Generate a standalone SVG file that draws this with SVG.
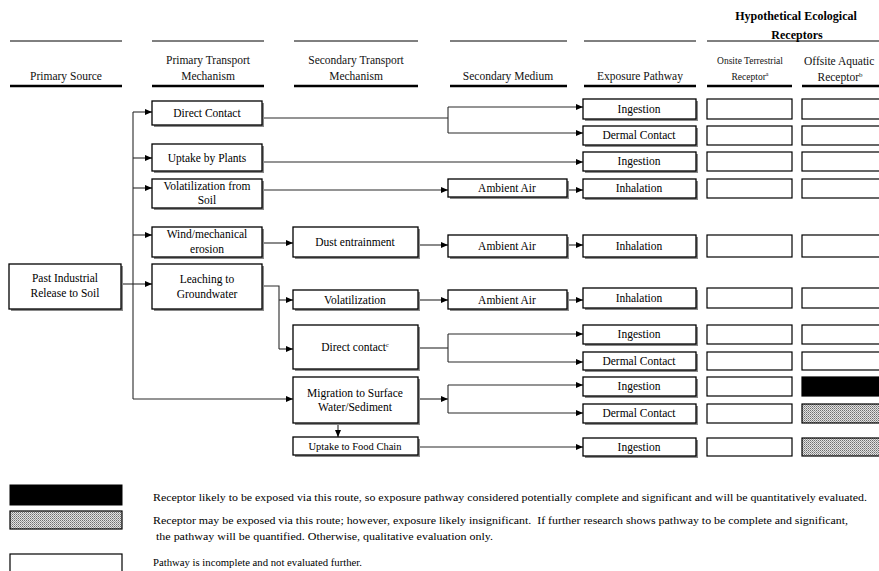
<svg xmlns="http://www.w3.org/2000/svg" width="879" height="571" viewBox="0 0 879 571">
<style>
.t{font-family:"Liberation Serif","Times New Roman",serif;font-size:11.5px;fill:#000;text-anchor:middle}
.hd{font-family:"Liberation Serif","Times New Roman",serif;font-size:11.5px;fill:#111;text-anchor:middle}
.hb{font-family:"Liberation Serif","Times New Roman",serif;font-size:12px;font-weight:bold;fill:#000;text-anchor:middle}
.sm{font-size:9.5px}
.lg{font-family:"Liberation Serif","Times New Roman",serif;font-size:10.8px;fill:#000}
.box{fill:#fff;stroke:#000;stroke-width:1.3}
.sh{fill:#8a8a8a}
.rc{fill:#fff;stroke:#000;stroke-width:1.2}
.thin{stroke:#000;stroke-width:1}
.thick{stroke:#000;stroke-width:2.6}
.conn line,.conn path{stroke:#2a2a2a;stroke-width:1.1;fill:none}
</style>
<defs>
<marker id="ar" markerWidth="7" markerHeight="6" refX="7" refY="3" orient="auto" markerUnits="userSpaceOnUse">
<path d="M0,0 L7,3 L0,6 z" fill="#000"/>
</marker>
<pattern id="dots" width="2" height="2" patternUnits="userSpaceOnUse">
<rect width="2" height="2" fill="#e2e2e2"/>
<rect width="1" height="1" fill="#6e6e6e"/>
<rect x="1" y="1" width="1" height="1" fill="#9a9a9a"/>
</pattern>
</defs>
<rect width="879" height="571" fill="#fff"/>

<g id="header">
<line class="thin" x1="10" y1="41" x2="122" y2="41"/>
<line class="thin" x1="152" y1="41" x2="264" y2="41"/>
<line class="thin" x1="294" y1="41" x2="418" y2="41"/>
<line class="thin" x1="450" y1="41" x2="567" y2="41"/>
<line class="thin" x1="584" y1="41" x2="696" y2="41"/>
<line class="thin" x1="707" y1="41" x2="879" y2="41"/>
<line class="thick" x1="10" y1="86" x2="122" y2="86"/>
<line class="thick" x1="152" y1="86" x2="264" y2="86"/>
<line class="thick" x1="294" y1="86" x2="418" y2="86"/>
<line class="thick" x1="450" y1="86" x2="567" y2="86"/>
<line class="thick" x1="584" y1="86" x2="696" y2="86"/>
<line class="thick" x1="707" y1="86" x2="792" y2="86"/>
<line class="thick" x1="802" y1="86" x2="879" y2="86"/>
<text class="hd" x="66" y="80">Primary Source</text>
<text class="hd" x="208" y="64">Primary Transport</text>
<text class="hd" x="208" y="80">Mechanism</text>
<text class="hd" x="356" y="64">Secondary Transport</text>
<text class="hd" x="356" y="80">Mechanism</text>
<text class="hd" x="508" y="80">Secondary Medium</text>
<text class="hd" x="640" y="80">Exposure Pathway</text>
<text class="hb" x="796" y="20">Hypothetical Ecological</text>
<text class="hb" x="797" y="39">Receptors</text>
<text class="hd sm" x="750" y="64">Onsite Terrestrial</text>
<text class="hd sm" x="750" y="80">Receptor<tspan font-size="6" dy="-4">a</tspan></text>
<text class="hd" x="804" y="65" style="text-anchor:start">Offsite Aquatic</text>
<text class="hd" x="840" y="81">Receptor<tspan font-size="7" dy="-4">b</tspan></text>
</g>

<g class="conn" id="connectors">
<line x1="133" y1="112" x2="133" y2="399"/>
<line x1="133" y1="112" x2="152" y2="112" marker-end="url(#ar)"/>
<line x1="133" y1="158" x2="152" y2="158" marker-end="url(#ar)"/>
<line x1="133" y1="188" x2="152" y2="188" marker-end="url(#ar)"/>
<line x1="133" y1="235" x2="152" y2="235" marker-end="url(#ar)"/>
<line x1="121" y1="284" x2="152" y2="284" marker-end="url(#ar)"/>
<line x1="133" y1="399" x2="293" y2="399" marker-end="url(#ar)"/>
<line x1="262" y1="118" x2="448" y2="118"/>
<line x1="448" y1="107" x2="448" y2="133"/>
<line x1="448" y1="107" x2="583" y2="107" marker-end="url(#ar)"/>
<line x1="448" y1="133" x2="583" y2="133" marker-end="url(#ar)"/>
<line x1="262" y1="162" x2="583" y2="162" marker-end="url(#ar)"/>
<line x1="262" y1="190" x2="448" y2="190" marker-end="url(#ar)"/>
<line x1="567" y1="190" x2="583" y2="190" marker-end="url(#ar)"/>
<line x1="262" y1="243" x2="293" y2="243" marker-end="url(#ar)"/>
<line x1="418" y1="245" x2="448" y2="245" marker-end="url(#ar)"/>
<line x1="567" y1="245" x2="583" y2="245" marker-end="url(#ar)"/>
<path d="M262,286 H279 V349"/>
<line x1="279" y1="300" x2="293" y2="300" marker-end="url(#ar)"/>
<line x1="279" y1="349" x2="293" y2="349" marker-end="url(#ar)"/>
<line x1="418" y1="300" x2="448" y2="300" marker-end="url(#ar)"/>
<line x1="567" y1="300" x2="583" y2="300" marker-end="url(#ar)"/>
<line x1="418" y1="348" x2="448" y2="348"/>
<line x1="448" y1="334" x2="448" y2="362"/>
<line x1="448" y1="334" x2="583" y2="334" marker-end="url(#ar)"/>
<line x1="448" y1="362" x2="583" y2="362" marker-end="url(#ar)"/>
<line x1="418" y1="399" x2="448" y2="399" marker-end="url(#ar)"/>
<line x1="448" y1="385" x2="448" y2="413"/>
<line x1="448" y1="385" x2="583" y2="385" marker-end="url(#ar)"/>
<line x1="448" y1="413" x2="583" y2="413" marker-end="url(#ar)"/>
<line x1="338" y1="423" x2="338" y2="437" marker-end="url(#ar)"/>
<line x1="418" y1="447" x2="583" y2="447" marker-end="url(#ar)"/>
</g>

<g id="src"><rect class="sh" x="11" y="266" width="112" height="45"/><rect class="box" x="9" y="264" width="112" height="45"/><text class="t" x="65" y="282">Past Industrial</text><text class="t" x="65" y="297">Release to Soil</text></g>

<g id="p1"><rect class="sh" x="154" y="103" width="110" height="24"/><rect class="box" x="152" y="101" width="110" height="24"/><text class="t" x="207" y="117">Direct Contact</text></g>
<g id="p2"><rect class="sh" x="154" y="146" width="110" height="27"/><rect class="box" x="152" y="144" width="110" height="27"/><text class="t" x="207" y="162">Uptake by Plants</text></g>
<g id="p3"><rect class="sh" x="154" y="181" width="110" height="29"/><rect class="box" x="152" y="179" width="110" height="29"/><text class="t" x="207" y="190">Volatilization from</text><text class="t" x="207" y="204">Soil</text></g>
<g id="p4"><rect class="sh" x="154" y="229" width="110" height="30"/><rect class="box" x="152" y="227" width="110" height="30"/><text class="t" x="207" y="238">Wind/mechanical</text><text class="t" x="207" y="253">erosion</text></g>
<g id="p5"><rect class="sh" x="154" y="266" width="110" height="45"/><rect class="box" x="152" y="264" width="110" height="45"/><text class="t" x="207" y="283">Leaching to</text><text class="t" x="207" y="298">Groundwater</text></g>

<g id="s1"><rect class="sh" x="295" y="229" width="125" height="30"/><rect class="box" x="293" y="227" width="125" height="30"/><text class="t" x="355" y="246">Dust entrainment</text></g>
<g id="s2"><rect class="sh" x="295" y="292" width="125" height="19"/><rect class="box" x="293" y="290" width="125" height="19"/><text class="t" x="355" y="304">Volatilization</text></g>
<g id="s3"><rect class="sh" x="295" y="327" width="125" height="44"/><rect class="box" x="293" y="325" width="125" height="44"/><text class="t" x="355" y="351">Direct contact<tspan font-size="6" dy="-4">c</tspan></text></g>
<g id="s4"><rect class="sh" x="295" y="379" width="125" height="46"/><rect class="box" x="293" y="377" width="125" height="46"/><text class="t" x="355" y="397">Migration to Surface</text><text class="t" x="355" y="411">Water/Sediment</text></g>
<g id="s5"><rect class="sh" x="295" y="439" width="125" height="18"/><rect class="box" x="293" y="437" width="125" height="18"/><text class="t" x="355" y="450" style="font-size:10.5px">Uptake to Food Chain</text></g>

<g id="m1"><rect class="sh" x="450" y="181" width="119" height="18"/><rect class="box" x="448" y="179" width="119" height="18"/><text class="t" x="507" y="192">Ambient Air</text></g>
<g id="m2"><rect class="sh" x="450" y="237" width="119" height="22"/><rect class="box" x="448" y="235" width="119" height="22"/><text class="t" x="507" y="250">Ambient Air</text></g>
<g id="m3"><rect class="sh" x="450" y="292" width="119" height="19"/><rect class="box" x="448" y="290" width="119" height="19"/><text class="t" x="507" y="304">Ambient Air</text></g>

<g id="e1"><rect class="sh" x="585" y="101" width="113" height="20"/><rect class="box" x="583" y="99" width="113" height="20"/><text class="t" x="639" y="113">Ingestion</text></g>
<g id="e2"><rect class="sh" x="585" y="128" width="113" height="19"/><rect class="box" x="583" y="126" width="113" height="19"/><text class="t" x="639" y="139">Dermal Contact</text></g>
<g id="e3"><rect class="sh" x="585" y="154" width="113" height="19"/><rect class="box" x="583" y="152" width="113" height="19"/><text class="t" x="639" y="165">Ingestion</text></g>
<g id="e4"><rect class="sh" x="585" y="181" width="113" height="19"/><rect class="box" x="583" y="179" width="113" height="19"/><text class="t" x="639" y="192">Inhalation</text></g>
<g id="e5"><rect class="sh" x="585" y="237" width="113" height="22"/><rect class="box" x="583" y="235" width="113" height="22"/><text class="t" x="639" y="250">Inhalation</text></g>
<g id="e6"><rect class="sh" x="585" y="290" width="113" height="20"/><rect class="box" x="583" y="288" width="113" height="20"/><text class="t" x="639" y="302">Inhalation</text></g>
<g id="e7"><rect class="sh" x="585" y="327" width="113" height="19"/><rect class="box" x="583" y="325" width="113" height="19"/><text class="t" x="639" y="338">Ingestion</text></g>
<g id="e8"><rect class="sh" x="585" y="354" width="113" height="18"/><rect class="box" x="583" y="352" width="113" height="18"/><text class="t" x="639" y="365">Dermal Contact</text></g>
<g id="e9"><rect class="sh" x="585" y="379" width="113" height="19"/><rect class="box" x="583" y="377" width="113" height="19"/><text class="t" x="639" y="390">Ingestion</text></g>
<g id="e10"><rect class="sh" x="585" y="406" width="113" height="19"/><rect class="box" x="583" y="404" width="113" height="19"/><text class="t" x="639" y="417">Dermal Contact</text></g>
<g id="e11"><rect class="sh" x="585" y="440" width="113" height="18"/><rect class="box" x="583" y="438" width="113" height="18"/><text class="t" x="639" y="451">Ingestion</text></g>

<g id="onsite">
<rect class="rc" x="707" y="99" width="85" height="20"/>
<rect class="rc" x="707" y="126" width="85" height="19"/>
<rect class="rc" x="707" y="152" width="85" height="19"/>
<rect class="rc" x="707" y="179" width="85" height="19"/>
<rect class="rc" x="707" y="235" width="85" height="22"/>
<rect class="rc" x="707" y="288" width="85" height="20"/>
<rect class="rc" x="707" y="325" width="85" height="19"/>
<rect class="rc" x="707" y="352" width="85" height="18"/>
<rect class="rc" x="707" y="377" width="85" height="19"/>
<rect class="rc" x="707" y="404" width="85" height="19"/>
<rect class="rc" x="707" y="438" width="85" height="18"/>
</g>
<g id="offsite">
<rect class="rc" x="802" y="99" width="90" height="20"/>
<rect class="rc" x="802" y="126" width="90" height="19"/>
<rect class="rc" x="802" y="152" width="90" height="19"/>
<rect class="rc" x="802" y="179" width="90" height="19"/>
<rect class="rc" x="802" y="235" width="90" height="22"/>
<rect class="rc" x="802" y="288" width="90" height="20"/>
<rect class="rc" x="802" y="325" width="90" height="19"/>
<rect class="rc" x="802" y="352" width="90" height="18"/>
<rect class="rc" x="802" y="377" width="90" height="19" style="fill:#000"/>
<rect class="rc" x="802" y="404" width="90" height="19" style="fill:url(#dots)"/>
<rect class="rc" x="802" y="438" width="90" height="18" style="fill:url(#dots)"/>
</g>

<g id="legend">
<rect x="10" y="485" width="112" height="20" fill="#000" stroke="#000"/>
<rect x="10" y="511" width="112" height="18" fill="url(#dots)" stroke="#000" stroke-width="1.2"/>
<rect x="10" y="554" width="112" height="30" fill="#fff" stroke="#000" stroke-width="1.2"/>
<text class="lg" x="153" y="501" textLength="714" lengthAdjust="spacingAndGlyphs">Receptor likely to be exposed via this route, so exposure pathway considered potentially complete and significant and will be quantitatively evaluated.</text>
<text class="lg" x="153" y="524" textLength="695" lengthAdjust="spacingAndGlyphs" xml:space="preserve">Receptor may be exposed via this route; however, exposure likely insignificant.  If further research shows pathway to be complete and significant,</text>
<text class="lg" x="153" y="540" textLength="340" lengthAdjust="spacingAndGlyphs" xml:space="preserve"> the pathway will be quantified. Otherwise, qualitative evaluation only.</text>
<text class="lg" x="153" y="566" textLength="209" lengthAdjust="spacingAndGlyphs">Pathway is incomplete and not evaluated further.</text>
</g>
</svg>
